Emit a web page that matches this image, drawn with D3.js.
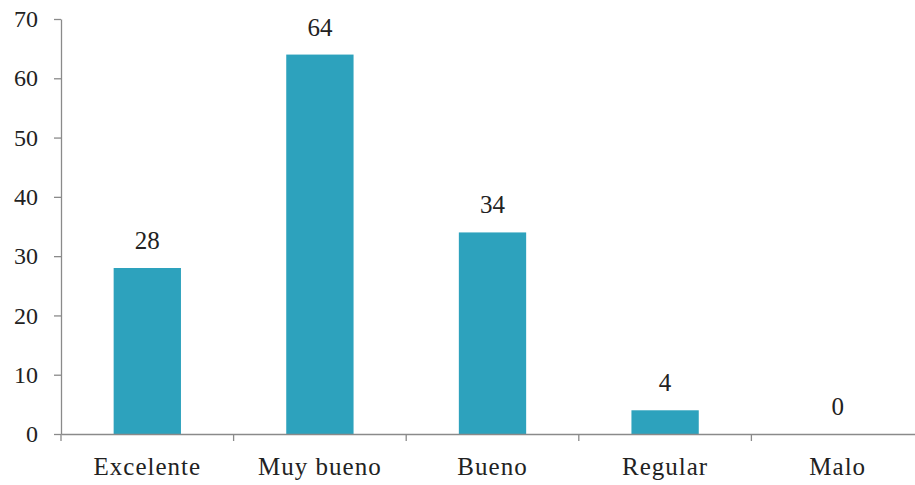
<!DOCTYPE html>
<html><head><meta charset="utf-8">
<script src="https://cdn.jsdelivr.net/npm/d3@7"></script>
<style>body{margin:0;background:#fff}svg{display:block}
svg text{font-family:"Liberation Serif","Times New Roman",Times,serif;}</style>
</head><body>
<script>
const categories = ["Excelente","Muy bueno","Bueno","Regular","Malo"];
const values = [28,64,34,4,0];
const yTicks = [0,10,20,30,40,50,60,70];

const W=915,H=485;
const svg=d3.select("body").append("svg").attr("width",W).attr("height",H);
const x=d3.scaleBand().domain(categories).range([61,924]).paddingInner(0.61).paddingOuter(0.305);
const y=d3.scaleLinear().domain([0,70]).range([434,19]);
const axisColor="#8a8a8a";
const fs=24;

// bars
svg.selectAll("rect.bar").data(values).enter().append("rect")
  .attr("x",(d,i)=>x(categories[i])).attr("width",x.bandwidth())
  .attr("y",d=>y(d)).attr("height",d=>y(0)-y(d))
  .attr("fill","#2da2bd");

// y axis
const ya=svg.append("g").attr("transform","translate(61,0)")
  .call(d3.axisLeft(y).tickValues(yTicks).tickSize(7).tickPadding(16).tickSizeOuter(0));
ya.attr("font-family",null);
ya.select(".domain").attr("stroke",axisColor).attr("stroke-width",1.3);
ya.selectAll(".tick line").attr("stroke",axisColor).attr("stroke-width",1.3);
ya.selectAll("text").attr("font-size",fs).attr("fill","#222");

// x axis
const xa=svg.append("g").attr("transform","translate(0,434)")
  .call(d3.axisBottom(x).tickSize(0).tickPadding(23));
xa.attr("font-family",null);
xa.select(".domain").attr("stroke",axisColor).attr("stroke-width",1.3);
xa.selectAll("text").attr("font-size",fs+1).attr("fill","#222")
  .attr("letter-spacing","1px");
// boundary ticks
const bounds=categories.map(c=>x(c)-x.step()*x.paddingInner()/2);
bounds.push(924);
svg.selectAll("line.bt").data(bounds).enter().append("line")
  .attr("x1",d=>d).attr("x2",d=>d).attr("y1",434).attr("y2",441)
  .attr("stroke",axisColor).attr("stroke-width",1.3);

// value labels
svg.selectAll("text.val").data(values).enter().append("text")
  .attr("x",(d,i)=>x(categories[i])+x.bandwidth()/2)
  .attr("y",d=>y(d)-19)
  .attr("text-anchor","middle").attr("font-size",fs+1).attr("fill","#222")
  .text(d=>d);
</script>
</body></html>
